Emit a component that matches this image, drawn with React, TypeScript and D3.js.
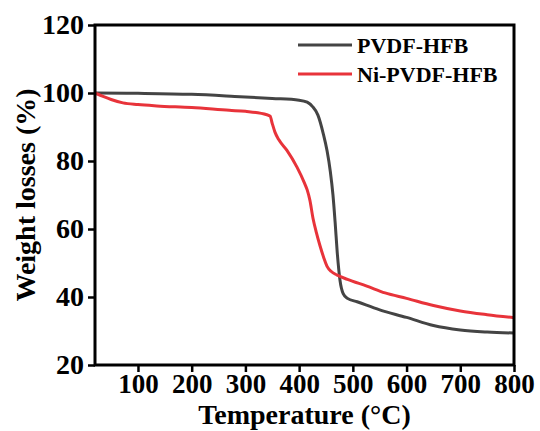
import React, { useEffect, useRef } from "react";
import * as d3 from "d3";

// TGA curves
const pvdfTemp = [20, 100, 200, 280, 350, 400, 415, 425, 435, 445, 452, 458, 463, 467, 471, 476, 482, 490, 508, 550, 600, 650, 700, 750, 800];
const pvdfWeight = [100, 99.9, 99.6, 99.0, 98.4, 97.9, 97.3, 96, 93.5, 88, 83, 77, 70, 62, 53, 45, 41, 39.6, 38.6, 36.2, 34.0, 31.6, 30.3, 29.7, 29.4];

const niTemp = [20, 35, 50, 72, 100, 135, 200, 270, 300, 340, 346, 350, 355, 362, 377, 396, 410, 415, 420, 426, 432, 439, 446, 452, 460, 470, 490, 526, 560, 600, 650, 700, 750, 800];
const niWeight = [100, 99.0, 98.1, 97.1, 96.6, 96.2, 95.7, 94.9, 94.6, 93.6, 93.2, 91, 88.5, 86.3, 83.2, 78.2, 73.5, 71.5, 68.5, 63, 59, 55, 51.5, 49, 47.5, 46.5, 45.2, 43.2, 41.2, 39.6, 37.5, 35.9, 34.8, 33.9];

const seriesNames = ["PVDF-HFB", "Ni-PVDF-HFB"];
const seriesColors = ["#444444", "#e8333a"];

const xTicks = [100, 200, 300, 400, 500, 600, 700, 800];
const yTicks = [20, 40, 60, 80, 100, 120];

export default function App() {
  const ref = useRef<SVGSVGElement>(null);

  useEffect(() => {
    const svg = d3.select(ref.current);
    svg.selectAll("*").remove();

    const left = 95, right = 514, top = 25, bottom = 365;
    const font = "'Liberation Serif', 'Times New Roman', serif";

    const x = d3.scaleLinear().domain([20, 800]).range([left, right]);
    const y = d3.scaleLinear().domain([20, 120]).range([bottom, top]);

    const series = [
      pvdfTemp.map((t, i) => [t, pvdfWeight[i]] as [number, number]),
      niTemp.map((t, i) => [t, niWeight[i]] as [number, number]),
    ];

    const line = d3
      .line<[number, number]>()
      .x((d) => x(d[0]))
      .y((d) => y(d[1]))
      .curve(d3.curveMonotoneX);

    series.forEach((s, i) => {
      svg
        .append("path")
        .datum(s)
        .attr("d", line)
        .attr("fill", "none")
        .attr("stroke", seriesColors[i])
        .attr("stroke-width", 3)
        .attr("stroke-linejoin", "round");
    });

    // x axis with minor ticks
    const xMinor = d3.range(50, 800, 100);
    const gx = svg.append("g").attr("transform", `translate(0,${bottom})`);
    gx.call(d3.axisBottom(x).tickValues(xMinor).tickSize(4).tickFormat(() => ""));
    gx.call(d3.axisBottom(x).tickValues(xTicks).tickSize(7).tickPadding(2).tickFormat(d3.format("d")));
    gx.selectAll(".domain").remove();
    gx.selectAll("line").attr("stroke", "#000").attr("stroke-width", 2.5);
    gx.selectAll("text")
      .attr("font-family", font)
      .attr("font-weight", "bold")
      .attr("font-size", 27)
      .attr("fill", "#000");

    const yMinor = d3.range(30, 120, 20);
    const gy = svg.append("g").attr("transform", `translate(${left},0)`);
    gy.call(d3.axisLeft(y).tickValues(yMinor).tickSize(4).tickFormat(() => ""));
    gy.call(d3.axisLeft(y).tickValues(yTicks).tickSize(7).tickPadding(4).tickFormat(d3.format("d")));
    gy.selectAll(".domain").remove();
    gy.selectAll("line").attr("stroke", "#000").attr("stroke-width", 2.5);
    gy.selectAll("text")
      .attr("font-family", font)
      .attr("font-weight", "bold")
      .attr("font-size", 28)
      .attr("fill", "#000");

    // frame
    svg
      .append("rect")
      .attr("x", left)
      .attr("y", top)
      .attr("width", right - left)
      .attr("height", bottom - top)
      .attr("fill", "none")
      .attr("stroke", "#000")
      .attr("stroke-width", 3);

    // titles
    svg
      .append("text")
      .attr("x", (left + right) / 2)
      .attr("y", 424)
      .attr("text-anchor", "middle")
      .attr("font-family", font)
      .attr("font-weight", "bold")
      .attr("font-size", 28)
      .text("Temperature (°C)");

    svg
      .append("text")
      .attr("transform", `translate(35,${(top + bottom) / 2}) rotate(-90)`)
      .attr("text-anchor", "middle")
      .attr("font-family", font)
      .attr("font-weight", "bold")
      .attr("font-size", 28)
      .text("Weight losses (%)");

    // legend
    const legend = svg.append("g");
    seriesNames.forEach((name, i) => {
      const ly = 45 + i * 29;
      legend
        .append("line")
        .attr("x1", 298)
        .attr("x2", 352)
        .attr("y1", ly)
        .attr("y2", ly)
        .attr("stroke", seriesColors[i])
        .attr("stroke-width", 3);
      legend
        .append("text")
        .attr("x", 357)
        .attr("y", ly + 8)
        .attr("font-family", font)
        .attr("font-weight", "bold")
        .attr("font-size", 22)
        .text(name);
    });
  }, []);

  return (
    <svg
      ref={ref}
      width={540}
      height={431}
      style={{ position: "absolute", left: 0, top: 0, background: "#fff" }}
    />
  );
}
